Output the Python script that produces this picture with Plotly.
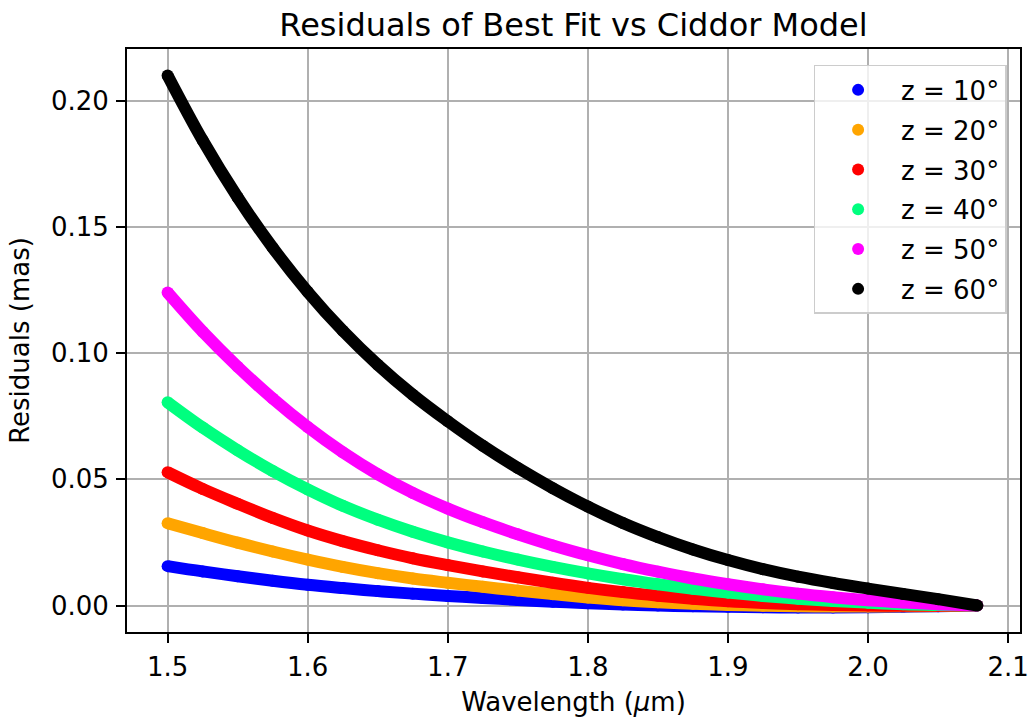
import plotly.graph_objects as go

wavelength = [1.500, 1.525, 1.550, 1.575, 1.600, 1.625, 1.650, 1.675, 1.700, 1.725, 1.750, 1.775,
              1.800, 1.825, 1.850, 1.875, 1.900, 1.925, 1.950, 1.975, 2.000, 2.025, 2.050, 2.078]

res_z10 = [0.0156, 0.0135, 0.0116, 0.0098, 0.0082, 0.0069, 0.0057, 0.0047, 0.0038, 0.0030, 0.0022, 0.0015,
           0.0009, 0.0004, 0.0000, -0.0003, -0.0005, -0.0007, -0.0008, -0.0008, -0.0007, -0.0005, -0.0003, 0.0]
res_z20 = [0.0326, 0.0287, 0.0249, 0.0214, 0.0182, 0.0153, 0.0128, 0.0107, 0.0090, 0.0074, 0.0059, 0.0045,
           0.0032, 0.0021, 0.0013, 0.0007, 0.0002, -0.0001, -0.0003, -0.0004, -0.0004, -0.0003, -0.0002, 0.0]
res_z30 = [0.0528, 0.0462, 0.0403, 0.0347, 0.0297, 0.0255, 0.0219, 0.0187, 0.0160, 0.0135, 0.0112, 0.0090,
           0.0070, 0.0053, 0.0039, 0.0027, 0.0017, 0.0010, 0.0005, 0.0002, 0.0000, -0.0001, -0.0001, 0.0]
res_z40 = [0.0805, 0.0705, 0.0615, 0.0533, 0.0460, 0.0395, 0.0340, 0.0292, 0.0250, 0.0214, 0.0182, 0.0153,
           0.0127, 0.0104, 0.0084, 0.0066, 0.0051, 0.0038, 0.0027, 0.0018, 0.0011, 0.0005, 0.0002, 0.0]
res_z50 = [0.1240, 0.1085, 0.0946, 0.0820, 0.0707, 0.0607, 0.0520, 0.0446, 0.0384, 0.0330, 0.0282, 0.0238,
           0.0199, 0.0164, 0.0134, 0.0107, 0.0084, 0.0064, 0.0047, 0.0033, 0.0021, 0.0012, 0.0005, 0.0]
res_z60 = [0.2100, 0.1843, 0.1617, 0.1418, 0.1243, 0.1089, 0.0954, 0.0835, 0.0730, 0.0633, 0.0545, 0.0465,
           0.0392, 0.0327, 0.0271, 0.0222, 0.0180, 0.0144, 0.0114, 0.0089, 0.0067, 0.0046, 0.0025, 0.0]

labels = ["z = 10°", "z = 20°", "z = 30°", "z = 40°", "z = 50°", "z = 60°"]
series = [res_z10, res_z20, res_z30, res_z40, res_z50, res_z60]
colors = ["#0000ff", "#ffa500", "#ff0000", "#00ff7f", "#ff00ff", "#000000"]

x_ticks = [1.5, 1.6, 1.7, 1.8, 1.9, 2.0, 2.1]
y_ticks = [0.00, 0.05, 0.10, 0.15, 0.20]

FONT = "DejaVu Sans"
FS = 26
W, H = 1032, 717
ML, MR, MT, MB = 127, 12, 49, 85

fig = go.Figure()
for name, ys, col in zip(labels, series, colors):
    fig.add_trace(go.Scatter(
        x=wavelength, y=ys, mode="lines", line=dict(color=col, width=12, shape="spline", smoothing=1.0),
        showlegend=False, legendgroup=name, hoverinfo="skip"))
    fig.add_trace(go.Scatter(
        x=wavelength, y=ys, mode="markers", name=name, legendgroup=name,
        marker=dict(color=col, size=12, line=dict(width=0))))

fig.update_layout(
    width=W, height=H,
    margin=dict(l=ML, r=MR, t=MT, b=MB, pad=0, autoexpand=False),
    paper_bgcolor="white", plot_bgcolor="white",
    font=dict(family=FONT, size=FS, color="black"),
    title=dict(text="Residuals of Best Fit vs Ciddor Model", font=dict(size=32, family=FONT, color="black"),
               x=0.5, xanchor="center", xref="paper",
               y=1 - 25 / H, yanchor="middle", yref="container"),
    legend=dict(x=0.985, y=0.9726, xanchor="right", yanchor="top",
                bgcolor="rgba(255,255,255,0.8)", bordercolor="#cccccc", borderwidth=1.5,
                font=dict(size=FS, family=FONT, color="black"),
                itemsizing="constant", itemwidth=76, traceorder="grouped", tracegroupgap=3),
    showlegend=True,
)

fig.update_xaxes(
    range=[1.471, 2.1085], tickvals=x_ticks, tickformat=".1f", automargin=False,
    showgrid=True, gridcolor="#b0b0b0", gridwidth=2,
    showline=True, linecolor="black", linewidth=2, mirror=True,
    ticks="outside", ticklen=9, tickwidth=2, tickcolor="black",
    ticklabelstandoff=2, zeroline=False,
    title=dict(text="Wavelength (<i>μ</i>m)", font=dict(size=FS, family=FONT), standoff=20),
)
fig.update_yaxes(
    range=[-0.0105, 0.2205], tickvals=y_ticks, tickformat=".2f", automargin=False,
    showgrid=True, gridcolor="#b0b0b0", gridwidth=2,
    showline=True, linecolor="black", linewidth=2, mirror=True,
    ticks="outside", ticklen=9, tickwidth=2, tickcolor="black",
    ticklabelstandoff=2, zeroline=False,
    title=dict(text="Residuals (mas)", font=dict(size=FS, family=FONT), standoff=14),
)

fig.write_html("out.html")
